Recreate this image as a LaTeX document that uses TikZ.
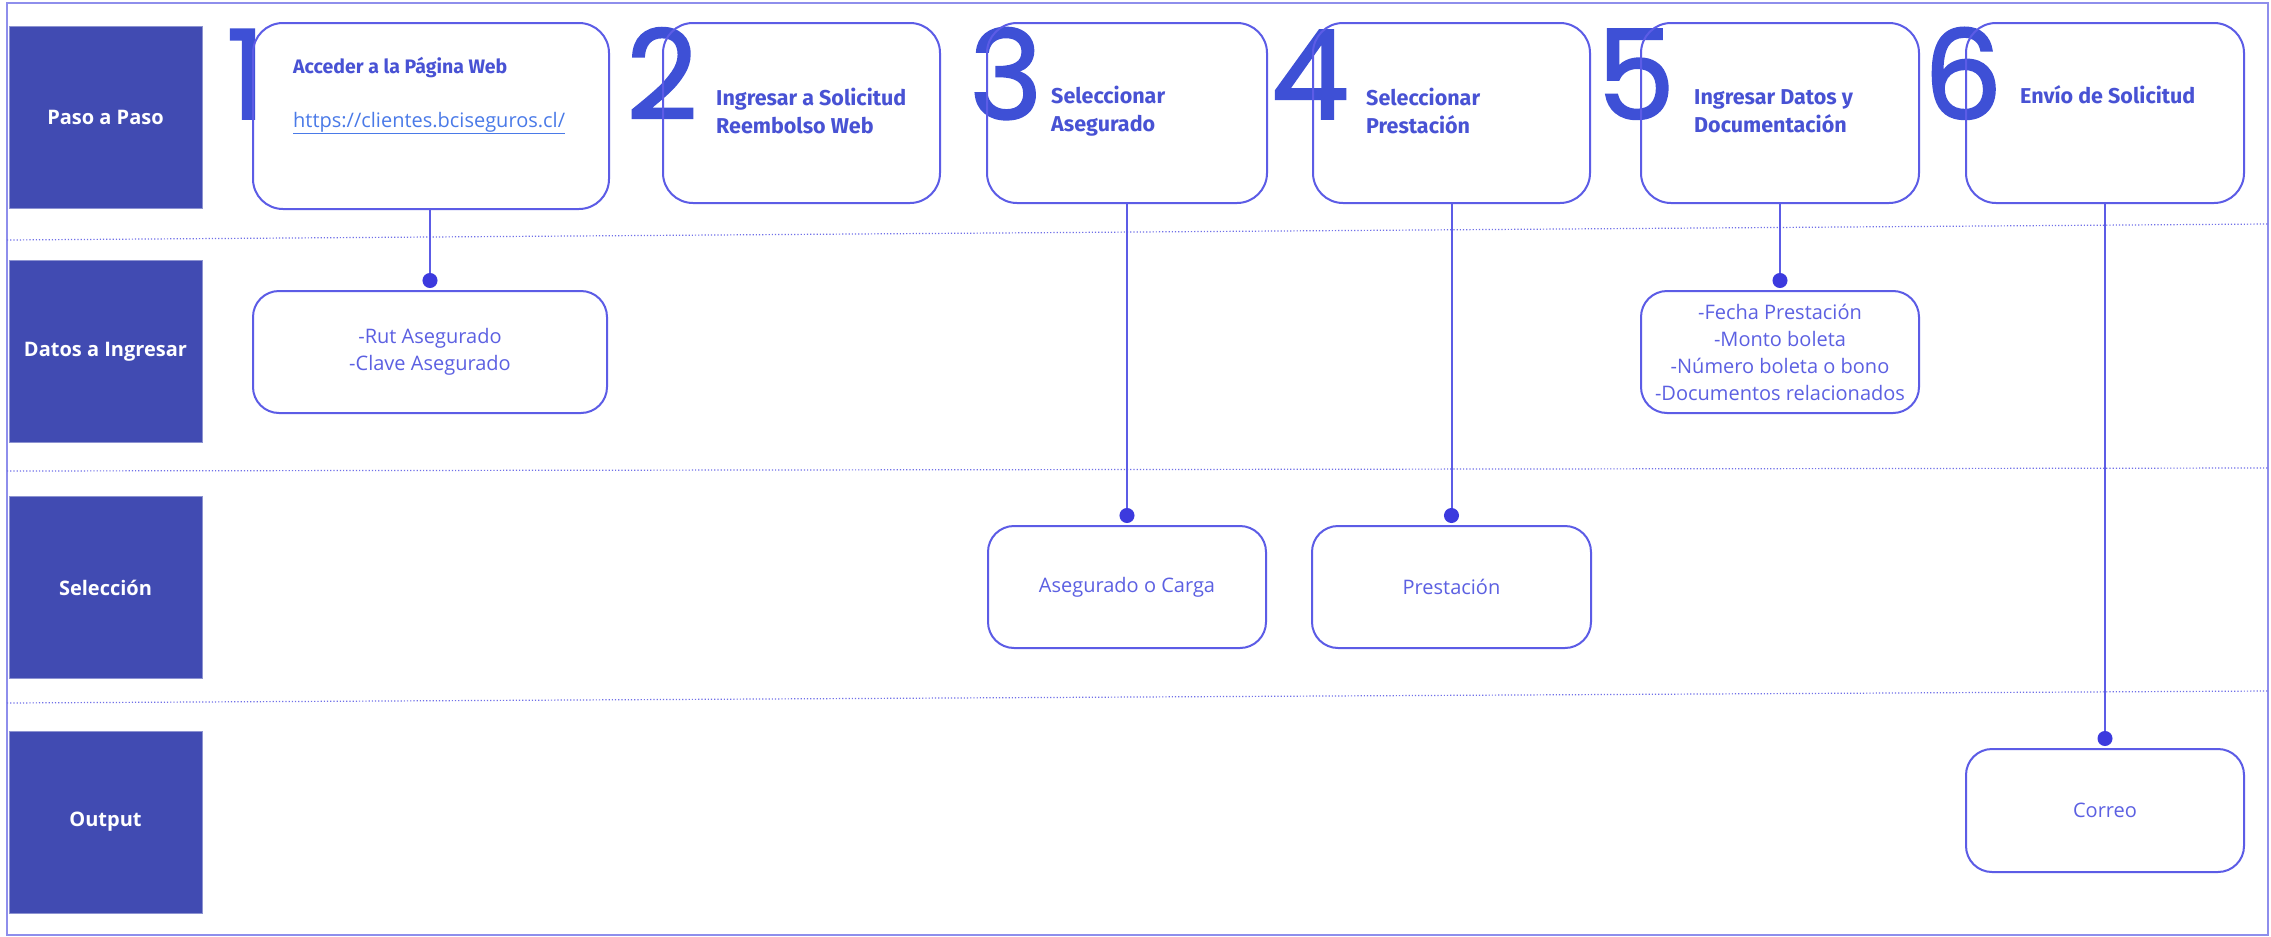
\documentclass[tikz,border=0pt]{standalone}
\usepackage{fontspec}
\setmainfont{Open Sans}
\newfontfamily\titlefont{Fira Sans}
\newfontfamily\digitfont{Poppins}[FakeBold=1.6]
\usetikzlibrary{arrows.meta}
\definecolor{lanefill}{RGB}{65,75,178}
\definecolor{boxline}{RGB}{92,92,230}
\definecolor{titlecol}{RGB}{72,82,212}
\definecolor{datacol}{RGB}{92,96,226}
\definecolor{urlcol}{RGB}{74,122,232}
\definecolor{sepcol}{RGB}{112,112,232}
\definecolor{framecol}{RGB}{142,142,236}
\definecolor{dotcol}{RGB}{60,58,222}
\definecolor{digitcol}{RGB}{62,80,214}
\tikzset{
  lane/.style={fill=lanefill, draw=lanefill!60!white, line width=0.8pt, minimum width=193pt, minimum height=182pt, text=white, font=\fontsize{20}{24}\selectfont\bfseries, inner sep=0pt},
  stepbox/.style={draw=boxline, line width=2pt, rounded corners=30pt, minimum height=180pt, inner sep=0pt},
  databox/.style={draw=boxline, line width=2pt, rounded corners=26pt, minimum height=122pt, inner sep=0pt, text=datacol, align=center, font=\fontsize{20}{27}\selectfont},
  steptext/.style={anchor=west, align=left, text=titlecol, font=\titlefont\fontsize{21.5}{28}\selectfont\bfseries, inner sep=0pt},
  digit/.style={anchor=base, text=digitcol, font=\digitfont\fontsize{124}{124}\selectfont, inner sep=0pt},
  conn/.style={draw=boxline, line width=2pt, shorten >=2pt, -{Circle[length=15pt, width=15pt, color=dotcol]}},
  sep/.style={draw=sepcol, line width=1.2pt, dotted},
}
\begin{document}
\begin{tikzpicture}[x=1pt,y=-1pt]
\useasboundingbox (0,0) rectangle (2271,937);
\fill[white] (0,0) rectangle (2271,937);
% frame
\draw[framecol, line width=2pt] (7,3) rectangle (2268,935);
% separators
\draw[sep] (7,240) -- (2268,224);
\draw[sep] (7,471) -- (2268,468);
\draw[sep] (7,703) -- (2268,691);
% lane labels
\node[lane] (l1) at (105.5,117) {Paso a Paso};
\node[lane] (l2) at (105.5,351.5) {Datos a Ingresar};
\node[lane] (l3) at (105.5,587.5) {Selección};
\node[lane] (l4) at (105.5,822) {Output};
% digits
\node[digit] (n1) at (246,119) {1};
\node[digit] (n2) at (662,119) {2};
\node[digit] (n3) at (1006,119) {3};
\node[digit] (n4) at (1310,119) {4};
\node[digit] (n5) at (1636,119) {5};
\node[digit] (n6) at (1963,119) {6};
% step boxes
\node[stepbox, minimum width=356pt, minimum height=186pt] (s1) at (431,116) {};
\node[stepbox, minimum width=277pt] (s2) at (801.5,113) {};
\node[stepbox, minimum width=280pt] (s3) at (1127,113) {};
\node[stepbox, minimum width=277pt] (s4) at (1451.5,113) {};
\node[stepbox, minimum width=278pt] (s5) at (1780,113) {};
\node[stepbox, minimum width=278pt] (s6) at (2105,113) {};
% step texts
\node[steptext, font=\titlefont\fontsize{19.5}{24}\selectfont\bfseries] (t1) at (293,68) {Acceder a la Página Web};
\node[anchor=west, inner sep=0pt, text=urlcol, font=\fontsize{20}{24}\selectfont] (u1) at (293,123) {\underline{https://clientes.bciseguros.cl/}};
\node[steptext] (t2) at (716,111) {Ingresar a Solicitud\\Reembolso Web};
\node[steptext] (t3) at (1051,111) {Seleccionar\\Asegurado};
\node[steptext] (t4) at (1366,111) {Seleccionar\\Prestación};
\node[steptext] (t5) at (1694,111) {Ingresar Datos y\\Documentación};
\node[steptext] (t6) at (2020,95) {Envío de Solicitud};
% data boxes
\node[databox, minimum width=354pt] (d1) at (430,352) {-Rut Asegurado\\-Clave Asegurado};
\node[databox, minimum width=278pt] (d5) at (1780,352) {-Fecha Prestación\\-Monto boleta\\-Número boleta o bono\\-Documentos relacionados};
\node[databox, minimum width=278pt] (e3) at (1127,587) {Asegurado o Carga};
\node[databox, minimum width=279pt] (e4) at (1451.5,587) {Prestación};
\node[databox, minimum width=278pt, minimum height=123pt] (o6) at (2105,810.5) {Correo};
% connectors
\draw[conn] (s1.south -| d1.north) -- (d1.north);
\draw[conn] (s3.south) -- (e3.north);
\draw[conn] (s4.south) -- (e4.north);
\draw[conn] (s5.south) -- (d5.north);
\draw[conn] (s6.south) -- (o6.north);
\end{tikzpicture}
\end{document}
